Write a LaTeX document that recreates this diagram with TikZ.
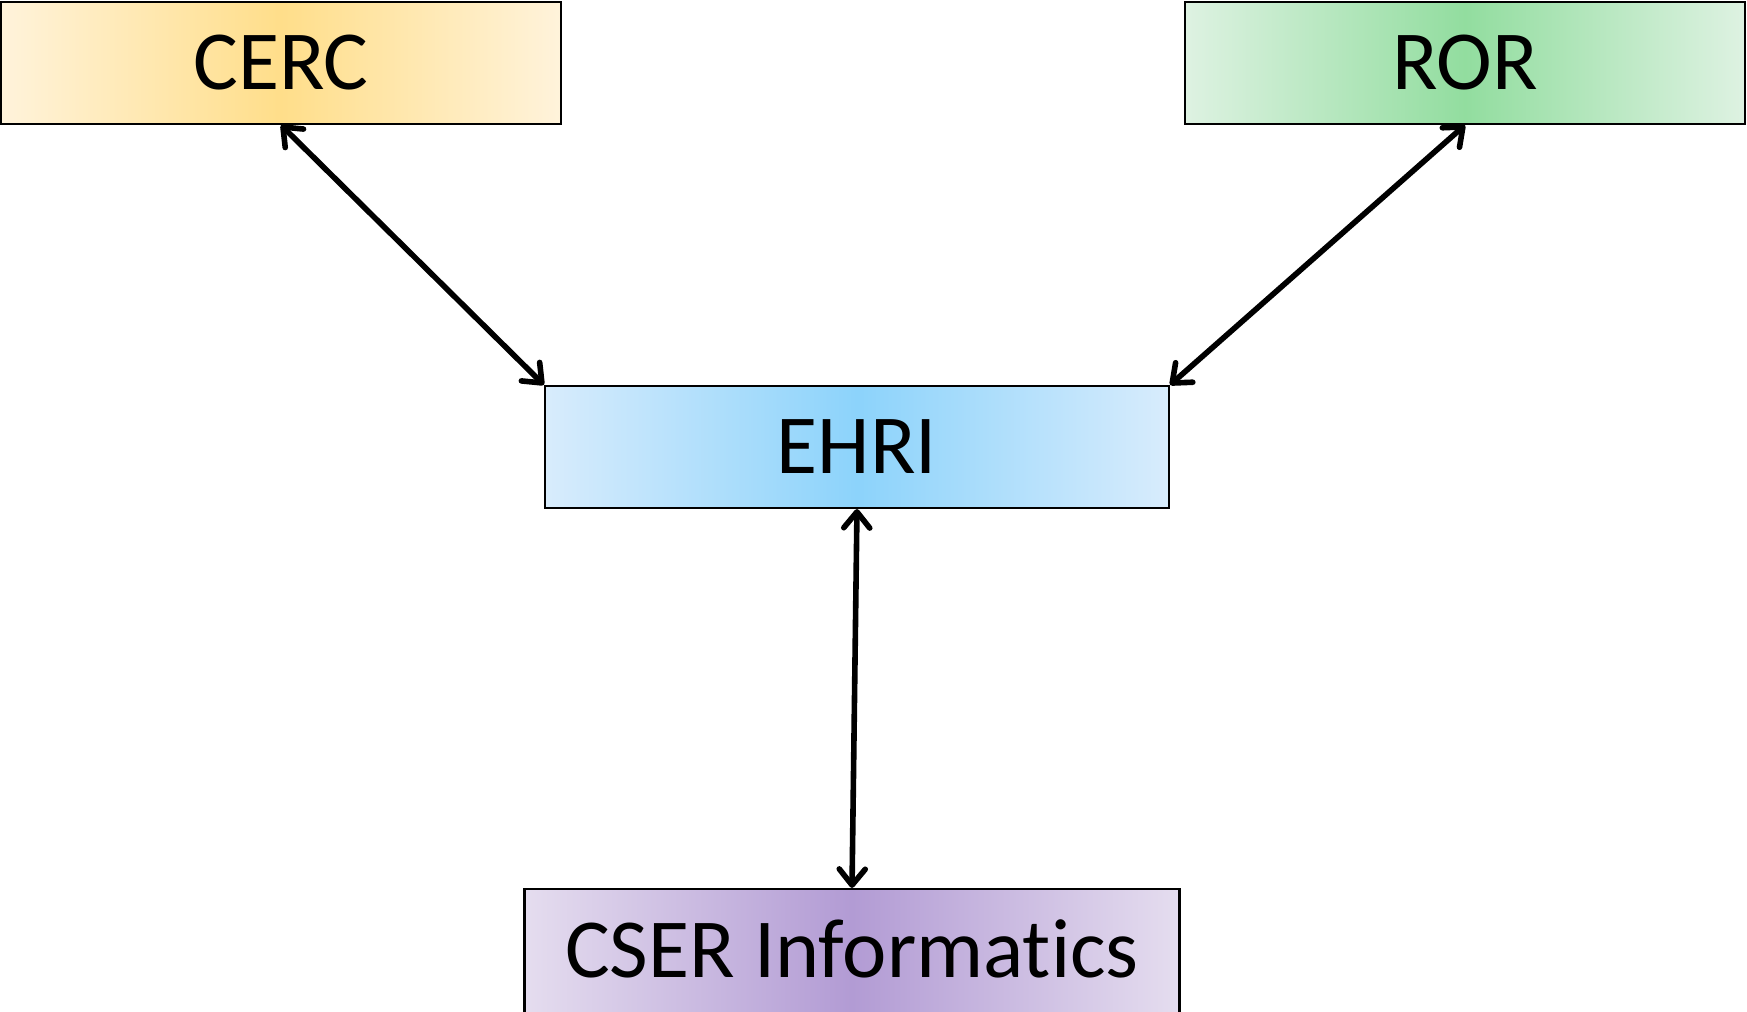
\documentclass[tikz,border=0pt]{standalone}
\usepackage{fontspec}
\setmainfont{Carlito}[Ligatures=NoCommon]
\usetikzlibrary{arrows.meta}
\definecolor{cercC}{HTML}{FFDE8A}
\definecolor{cercE}{HTML}{FFF3DB}
\definecolor{rorC}{HTML}{92DD9F}
\definecolor{rorE}{HTML}{DEF2E2}
\definecolor{ehriC}{HTML}{8CD3FB}
\definecolor{ehriE}{HTML}{D8ECFC}
\definecolor{cserC}{HTML}{B29BD4}
\definecolor{cserE}{HTML}{E5DDEF}
\tikzset{
  box/.style={draw=black, line width=1.1pt, inner sep=0pt, minimum height=61pt,
    font=\fontsize{42}{50}\selectfont, text height=27pt, text depth=0pt},
  link/.style={line width=2.8pt, line cap=round,
    {Straight Barb[length=8pt,width=13pt,line cap=round,line join=round]}-{Straight Barb[length=8pt,width=13pt,line cap=round,line join=round]}}
}
\begin{document}
\begin{tikzpicture}[x=0.5pt,y=0.5pt]
\useasboundingbox (0,0) rectangle (1747,1012);
\node[box, minimum width=280pt, left color=cercE, right color=cercE, middle color=cercC] (cerc) at (281,949) {CERC};
\node[box, minimum width=280pt, left color=rorE, right color=rorE, middle color=rorC] (ror) at (1465,949) {ROR};
\node[box, minimum width=312pt, left color=ehriE, right color=ehriE, middle color=ehriC] (ehri) at (857,565) {EHRI};
\node[box, minimum width=327.5pt, minimum height=62pt, left color=cserE, right color=cserE, middle color=cserC] (cser) at (852,61) {CSER Informatics};
\draw[link] (cerc.south) -- (ehri.north west);
\draw[link] (ror.south) -- (ehri.north east);
\draw[link] (ehri.south) -- (cser.north);
\end{tikzpicture}
\end{document}
